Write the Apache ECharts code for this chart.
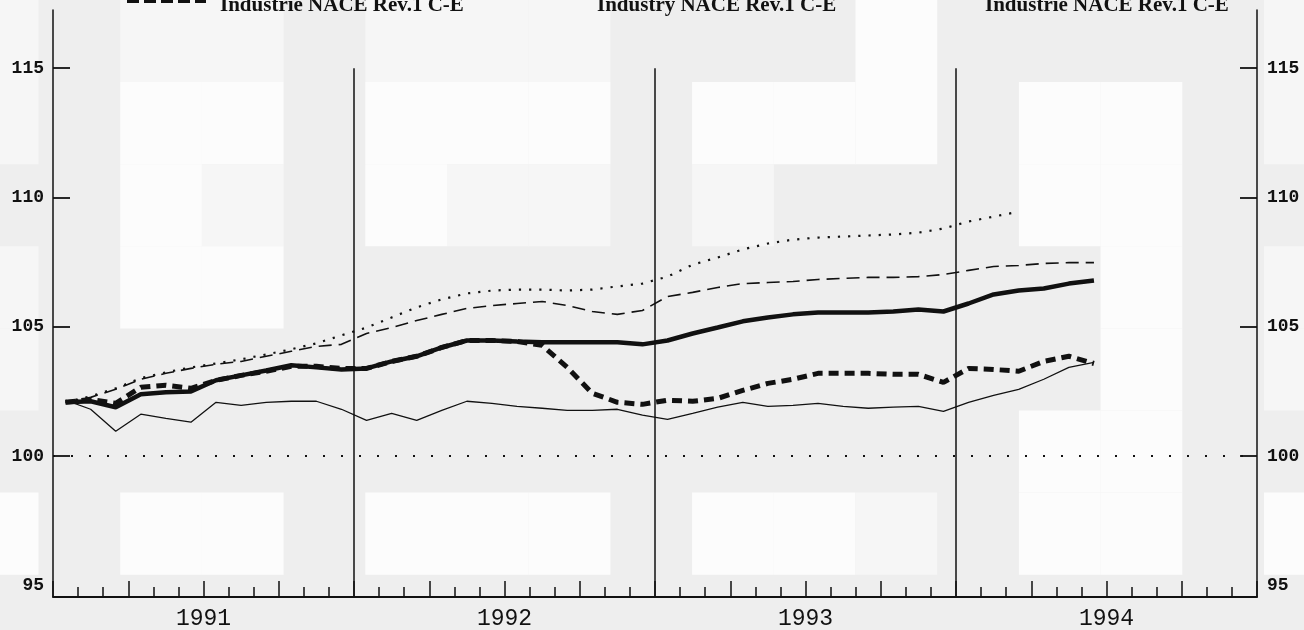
<!DOCTYPE html>
<html>
<head>
<meta charset="utf-8">
<script src="https://cdn.jsdelivr.net/npm/echarts@6/dist/echarts.min.js"></script>
<style>
html,body{margin:0;padding:0;background:#eeeeee;}
#chart{width:1304px;height:630px;}
</style>
</head>
<body>
<div id="chart"></div>
<script>
// ---- data (monthly index values, Jan 1991 = month 0) ----
const yearLabels = ['1991', '1992', '1993', '1994'];
const legendTexts = ['Industrie NACE Rev.1 C-E', 'Industry NACE Rev.1 C-E', 'Industrie NACE Rev.1 C-E'];
const yTicks = [95, 100, 105, 110, 115];

const dottedSeries = [102.08, 102.31, 102.62, 103.01, 103.24, 103.43, 103.58, 103.74, 103.93, 104.13, 104.36, 104.67,
  104.97, 105.36, 105.75, 106.06, 106.29, 106.40, 106.44, 106.44, 106.40, 106.44, 106.56, 106.67,
  106.94, 107.40, 107.68, 107.99, 108.22, 108.37, 108.45, 108.49, 108.53, 108.57, 108.64, 108.80,
  109.07, 109.26, 109.45];
const thinDashedSeries = [102.08, 102.27, 102.58, 102.97, 103.20, 103.39, 103.55, 103.66, 103.86, 104.05, 104.24, 104.32,
  104.74, 104.97, 105.24, 105.48, 105.71, 105.82, 105.90, 105.98, 105.82, 105.59, 105.48, 105.63,
  106.17, 106.33, 106.52, 106.67, 106.71, 106.75, 106.83, 106.87, 106.91, 106.91, 106.94, 107.02,
  107.18, 107.33, 107.37, 107.45, 107.48, 107.48];
const thickSolidSeries = [102.08, 102.12, 101.89, 102.39, 102.47, 102.50, 102.93, 103.12, 103.31, 103.51, 103.43, 103.35,
  103.39, 103.66, 103.86, 104.20, 104.47, 104.47, 104.43, 104.40, 104.40, 104.40, 104.40, 104.32,
  104.47, 104.74, 104.97, 105.21, 105.36, 105.48, 105.55, 105.55, 105.55, 105.59, 105.67, 105.59,
  105.90, 106.25, 106.40, 106.48, 106.67, 106.79];
const thickDashedSeries = [102.08, 102.19, 102.04, 102.66, 102.74, 102.62, 102.93, 103.12, 103.28, 103.47, 103.47, 103.39,
  103.39, 103.66, 103.86, 104.20, 104.47, 104.47, 104.43, 104.28, 103.43, 102.43, 102.08, 102.00,
  102.16, 102.12, 102.23, 102.54, 102.81, 102.97, 103.20, 103.20, 103.20, 103.16, 103.16, 102.85,
  103.39, 103.35, 103.28, 103.66, 103.86, 103.58];
const thinSolidSeries = [102.16, 101.81, 100.96, 101.62, 101.46, 101.31, 102.08, 101.96, 102.08, 102.12, 102.12, 101.81,
  101.38, 101.65, 101.38, 101.77, 102.12, 102.04, 101.92, 101.85, 101.77, 101.77, 101.81, 101.58,
  101.42, 101.65, 101.89, 102.08, 101.92, 101.96, 102.04, 101.92, 101.85, 101.89, 101.92, 101.73,
  102.08, 102.35, 102.58, 102.97, 103.43, 103.62];

// ---- helpers ----
const toPoints = arr => arr.map((v, i) => [i + 0.5, v]);
const Y_MIN = 94.55, Y_MAX = 117.25;
const INK = '#111111';

// background scan patches [col,row,shade]
const patches = [
  [-1,0,'l'],[1,0,'l'],[2,0,'l'],[4,0,'l'],[5,0,'l'],[6,0,'l'],[10,0,'w'],[15,0,'l'],
  [-1,1,'l'],[1,1,'w'],[2,1,'w'],[4,1,'w'],[5,1,'w'],[6,1,'w'],[8,1,'w'],[9,1,'w'],[10,1,'w'],[12,1,'w'],[13,1,'w'],[15,1,'l'],
  [1,2,'w'],[2,2,'l'],[4,2,'w'],[5,2,'l'],[6,2,'l'],[8,2,'l'],[12,2,'w'],[13,2,'w'],
  [-1,3,'l'],[1,3,'w'],[2,3,'w'],[13,3,'w'],[15,3,'l'],
  [-1,4,'l'],[13,4,'w'],[15,4,'l'],
  [12,5,'w'],[13,5,'w'],
  [-1,6,'w'],[1,6,'w'],[2,6,'w'],[4,6,'w'],[5,6,'w'],[6,6,'w'],[8,6,'w'],[9,6,'w'],[10,6,'l'],[12,6,'w'],[13,6,'w'],[15,6,'w']
];
const CW = 81.7, CH = 82.1, CX0 = 38.5;
const graphics = patches.map(([c, r, s]) => ({
  type: 'rect', z: -10, silent: true,
  shape: {
    x: c < 0 ? 0 : CX0 + CW * c,
    y: CH * r,
    width: c < 0 ? CX0 : (c === 15 ? 1304 - (CX0 + CW * c) : CW),
    height: CH
  },
  style: { fill: s === 'w' ? '#fcfcfc' : '#f6f6f6' }
}));
// cropped legend remnants at the top
const legendX = [220, 597, 985];
legendTexts.forEach((t, k) => {
  graphics.push({
    type: 'text', z: 10, x: legendX[k], y: 16,
    style: { text: t, fill: '#111', font: 'bold 21px "Liberation Serif", serif', verticalAlign: 'bottom' }
  });
});
graphics.push({
  type: 'line', z: 10, silent: true,
  shape: { x1: 127, y1: 0, x2: 206, y2: 0 },
  style: { stroke: '#111', lineWidth: 6, lineDash: [12, 5] }
});

const lineSeries = (name, arr, width, dash, extra) => Object.assign({
  name, type: 'line', data: toPoints(arr), showSymbol: false, symbol: 'none',
  lineStyle: { color: INK, width: width, type: dash }, silent: true, animation: false, z: 3
}, extra || {});

const yAxisCommon = (pos) => ({
  type: 'value', position: pos, min: Y_MIN, max: Y_MAX,
  axisLine: { show: true, lineStyle: { color: INK, width: 1.5 } },
  axisTick: { show: true, inside: true, length: 17, customValues: [100, 105, 110, 115], lineStyle: { color: INK, width: 1.8 } },
  axisLabel: {
    customValues: yTicks, margin: pos === 'left' ? 9 : 10,
    color: '#111', fontFamily: '"Liberation Mono", monospace', fontWeight: 'bold', fontSize: 18
  },
  splitLine: { show: false }
});

const option = {
  backgroundColor: '#eeeeee',
  animation: false,
  grid: { left: 53, right: 47, top: 10, bottom: 32 },
  graphic: graphics,
  xAxis: {
    type: 'value', min: 0, max: 48, interval: 3,
    axisLine: { show: true, onZero: false, lineStyle: { color: INK, width: 1.8 } },
    axisTick: { show: true, inside: true, length: 16, lineStyle: { color: INK, width: 1.5 } },
    minorTick: { show: true, splitNumber: 3, length: 10, lineStyle: { color: INK, width: 1.5 } },
    axisLabel: {
      margin: 10, color: '#111', fontFamily: '"Liberation Mono", monospace', fontSize: 23,
      showMinLabel: false, showMaxLabel: false,
      formatter: v => (v % 12 === 6 ? yearLabels[(v - 6) / 12] : '')
    },
    splitLine: { show: false }, minorSplitLine: { show: false }
  },
  yAxis: [yAxisCommon('left'), yAxisCommon('right')],
  series: [
    lineSeries('Dotted', dottedSeries, 2.2, [2.2, 8]),
    lineSeries('Thin dashed', thinDashedSeries, 1.6, [13, 7]),
    lineSeries('Thick solid', thickSolidSeries, 4.5, 'solid'),
    lineSeries('Thick dashed', thickDashedSeries, 5, [10, 6]),
    lineSeries('Thin solid', thinSolidSeries, 1.3, 'solid', {
      markLine: {
        silent: true, symbol: 'none', animation: false,
        label: { show: false },
        data: [
          [{ coord: [12, 115], lineStyle: { color: INK, width: 1.5, type: 'solid' } }, { coord: [12, Y_MIN] }],
          [{ coord: [24, 115], lineStyle: { color: INK, width: 1.5, type: 'solid' } }, { coord: [24, Y_MIN] }],
          [{ coord: [36, 115], lineStyle: { color: INK, width: 1.5, type: 'solid' } }, { coord: [36, Y_MIN] }],
          { yAxis: 100, lineStyle: { color: INK, width: 2, type: [2, 16] } }
        ]
      }
    })
  ]
};

const chart = echarts.init(document.getElementById('chart'), null, { renderer: 'canvas' });
chart.setOption(option);
</script>
</body>
</html>
